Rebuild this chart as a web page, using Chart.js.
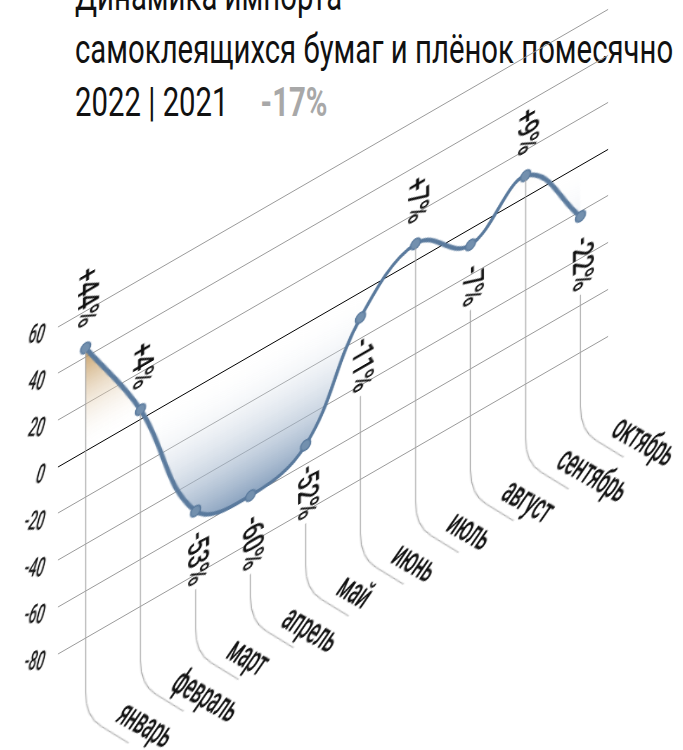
<!DOCTYPE html>
<html lang="ru">
<head>
<meta charset="utf-8">
<script src="https://cdn.jsdelivr.net/npm/chart.js@4.4.1/dist/chart.umd.min.js"></script>
<style>
    html, body { margin: 0; padding: 0; background: #fff; overflow: hidden; }
    body { width: 683px; height: 750px; position: relative; }
    .title {
        position: absolute; left: 75px; top: -30px;
        font-family: Roboto, "Noto Sans", sans-serif; font-weight: 400;
        font-size: 41px; line-height: 53px; color: #111; white-space: nowrap;
        transform-origin: 0 0;
    }
    .title .pct { color: #a8a8a8; font-weight: bold; }
    #chart { position: absolute; left: 0; top: 0; transform-origin: 0 0; transform: skewY(-30deg); }
</style>
</head>
<body>
<div class="title" id="title">
    <div>Динамика импорта</div>
    <div>самоклеящихся бумаг и плёнок помесячно</div>
    <div>2022 | 2021<span class="pct" id="pct">-17%</span></div>
</div>
<canvas id="chart" width="683" height="880"></canvas>
<script>
const months = ["январь", "февраль", "март", "апрель", "май", "июнь", "июль", "август", "сентябрь", "октябрь"];
const changes = [44, 4, -53, -60, -52, -11, 7, -7, 9, -22];
const yMin = -80;
const yMax = 60;
const yStep = 20;

const FONT = 'Roboto, "Noto Sans", sans-serif';
const SKEW = Math.tan(30 * Math.PI / 180);

// narrow the title the way the condensed original looks
const title = document.getElementById("title");
const squeeze = 598 / title.offsetWidth;
title.style.transform = "scaleX(" + squeeze + ")";
document.getElementById("pct").style.marginLeft = (32 / squeeze) + "px";

// the canvas is skewed by css, so undo it to get a given look on screen
function screenText(ctx, text, x, y, m) {
    ctx.save();
    ctx.translate(x, y);
    ctx.transform(m.a, SKEW * m.a + m.b, m.c, SKEW * m.c + m.d, 0, 0);
    ctx.fillText(text, 0, 0);
    ctx.restore();
}

function turnedText(ctx, text, x, y, angle, narrow) {
    ctx.save();
    ctx.translate(x, y);
    ctx.rotate(angle);
    ctx.scale(narrow, 1);
    ctx.fillText(text, 0, 0);
    ctx.restore();
}

function fillGradient(context) {
    const chart = context.chart;
    if (!chart.chartArea) return "rgba(0,0,0,0)";
    const y = chart.scales.y;
    const top = y.getPixelForValue(Math.max(...changes));
    const bottom = y.getPixelForValue(Math.min(...changes));
    const zero = (y.getPixelForValue(0) - top) / (bottom - top);
    const g = chart.ctx.createLinearGradient(0, top, 0, bottom);
    g.addColorStop(0, "rgba(192,146,80,0.9)");
    g.addColorStop(zero, "rgba(255,255,255,0)");
    g.addColorStop(1, "rgba(120,148,181,0.85)");
    return g;
}

const labelsPlugin = {
    id: "skewLabels",
    afterDatasetsDraw(chart) {
        const ctx = chart.ctx;
        const xs = chart.scales.x;
        const ys = chart.scales.y;
        const gap = 22;
        const angle = 50 * Math.PI / 180;
        const cornerY = ys.bottom + 79;
        const r = 24;
        const len = 67;

        ctx.save();
        ctx.fillStyle = "#111";

        // y tick labels
        ctx.font = "500 22px " + FONT;
        ctx.textAlign = "right";
        ctx.textBaseline = "alphabetic";
        ys.ticks.forEach(t => {
            const yp = ys.getPixelForValue(t.value);
            screenText(ctx, String(t.value), chart.chartArea.left - 16, yp + 7, { a: 0.6, b: 0, c: -0.35, d: 1.22 });
        });

        changes.forEach((v, i) => {
            const x = xs.getPixelForValue(i);
            const y = ys.getPixelForValue(v);
            const text = (v > 0 ? "+" : "") + v + "%";

            ctx.font = "500 29px " + FONT;
            const w = ctx.measureText(text).width * 0.8;
            ctx.textAlign = v >= 0 ? "right" : "left";
            ctx.textBaseline = "middle";
            turnedText(ctx, text, x, v >= 0 ? y - gap : y + gap, Math.PI / 2, 0.8);

            // leader line down to the month name
            const start = v >= 0 ? y + 4 : y + gap + w + 5;
            ctx.beginPath();
            ctx.moveTo(x, start);
            ctx.lineTo(x, cornerY - r);
            ctx.quadraticCurveTo(x, cornerY, x + r * Math.cos(angle), cornerY + r * Math.sin(angle));
            ctx.lineTo(x + len * Math.cos(angle), cornerY + len * Math.sin(angle));
            ctx.strokeStyle = "#a3a3a3";
            ctx.lineWidth = 1;
            ctx.stroke();

            ctx.font = "500 30px " + FONT;
            ctx.textAlign = "left";
            ctx.textBaseline = "alphabetic";
            turnedText(ctx, months[i], x + 29, cornerY + 21, 49 * Math.PI / 180, 0.74);
        });
        ctx.restore();
    }
};

new Chart(document.getElementById("chart"), {
    type: "line",
    data: {
        labels: months,
        datasets: [{
            data: changes,
            borderColor: "#5a7a9d",
            borderWidth: 4,
            tension: 0.4,
            fill: "origin",
            backgroundColor: fillGradient,
            pointRadius: 5,
            pointBackgroundColor: "#7390ae",
            pointBorderColor: "#5a7a9d",
            pointBorderWidth: 1.5
        }]
    },
    options: {
        responsive: false,
        animation: false,
        events: [],
        layout: { padding: { left: 58, right: 75, top: 360, bottom: 193 } },
        scales: {
            x: { display: false, offset: true },
            y: {
                min: yMin,
                max: yMax,
                ticks: { display: false, stepSize: yStep },
                border: { display: false },
                grid: {
                    drawTicks: false,
                    lineWidth: 1,
                    color: ctx => ctx.tick && ctx.tick.value === 0 ? "#000" : "#9a9a9a"
                }
            }
        },
        plugins: { legend: { display: false }, tooltip: { enabled: false } }
    },
    plugins: [labelsPlugin]
});
</script>
</body>
</html>
